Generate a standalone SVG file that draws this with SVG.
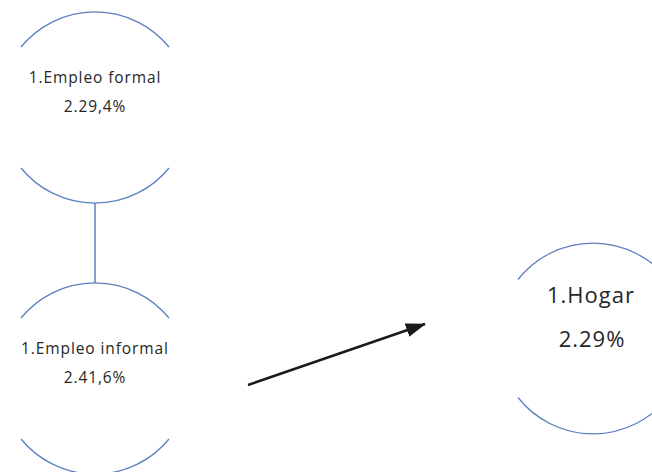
<svg xmlns="http://www.w3.org/2000/svg" width="652" height="472" viewBox="0 0 652 472">
<style>
.arc{fill:none;stroke:#5b7fc0;stroke-width:1.3}
.lbl{font-family:"Open Sans","Liberation Sans",sans-serif;fill:#262626;text-anchor:middle}
.sm{font-size:15.5px;letter-spacing:0.9px}
.lg{font-size:22px;letter-spacing:1px}
</style>
<defs>
<marker id="ah2" viewBox="0 0 20 14" refX="19" refY="7" markerWidth="20" markerHeight="14" markerUnits="userSpaceOnUse" orient="auto">
<path d="M0,0 L20,7 L0,14 z" fill="#1a1a1a"/>
</marker>
</defs>
<rect width="652" height="472" fill="#ffffff"/>
<g id="connectors">
<line x1="95" y1="203" x2="95" y2="283" stroke="#4a6aad" stroke-width="1.3"/>
<line x1="248" y1="385" x2="425" y2="324" stroke="#1a1a1a" stroke-width="2.5" marker-end="url(#ah2)"/>
</g>
<g id="empleo-formal">
<path class="arc" d="M21 47 A95.5 95.5 0 0 1 169 47"/>
<path class="arc" d="M21 168 A95.5 95.5 0 0 0 169 168"/>
<text class="lbl sm" x="95" y="83">1.Empleo formal</text>
<text class="lbl sm" x="95" y="112">2.29,4%</text>
</g>
<g id="empleo-informal">
<path class="arc" d="M21 318 A95.5 95.5 0 0 1 169 318"/>
<path class="arc" d="M21 439 A95.5 95.5 0 0 0 169 439"/>
<text class="lbl sm" x="95" y="354">1.Empleo informal</text>
<text class="lbl sm" x="95" y="383">2.41,6%</text>
</g>
<g id="hogar">
<path class="arc" d="M518 279.5 A95.5 95.5 0 0 1 668 279.5"/>
<path class="arc" d="M518 397.5 A95.5 95.5 0 0 0 668 397.5"/>
<text class="lbl lg" x="591" y="303">1.Hogar</text>
<text class="lbl lg" x="592" y="347">2.29%</text>
</g>
</svg>
